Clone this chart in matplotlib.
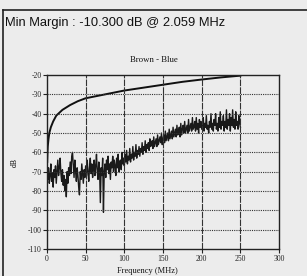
import matplotlib
matplotlib.use("Agg")
import matplotlib.pyplot as plt
from matplotlib.lines import Line2D

# ---- data ----
limit_freq = [0.3, 0.7, 1, 2, 3, 5, 8, 12, 20, 30, 40, 50, 75, 100, 125, 150, 175, 200, 225, 250]
limit_db = [-65, -60, -57, -53, -50, -47, -44, -41, -38, -35.5, -33.5, -32, -30, -28, -26.5, -25, -23.5, -22.3, -21.2, -20.3]

meas_db = [
    -70, -74, -68, -76, -72, -66, -75, -71, -78, -69,
    -73, -67, -76, -70, -64, -72, -68, -63, -71, -75,
    -69, -77, -72, -80, -74, -83, -70, -76, -68, -72,
    -65, -71, -62, -60, -67, -73, -64, -70, -75, -68,
    -72, -78, -82, -70, -74, -66, -71, -76, -69, -73,
    -67, -72, -64, -70, -75, -68, -63, -71, -66, -73,
    -69, -64, -72, -67, -61, -70, -74, -65, -69, -86,
    -68, -72, -63, -91, -70, -66, -73, -64, -69, -62,
    -71, -66, -74, -65, -68, -62, -70, -64, -67, -72,
    -63, -68, -61, -70, -65, -64, -69, -60, -66, -63,
    -67, -61, -65, -59, -66, -62, -64, -58, -65, -61,
    -63, -57, -64, -60, -62, -56, -63, -59, -61, -57,
    -62, -58, -60, -55, -61, -57, -59, -54, -60, -56,
    -58, -55, -59, -53, -57, -56, -54, -58, -52, -57,
    -55, -53, -57, -51, -56, -54, -52, -55, -50, -56,
    -53, -51, -55, -49, -54, -52, -50, -54, -48, -53,
    -51, -49, -53, -47, -52, -50, -48, -52, -46, -51,
    -50, -47, -52, -45, -51, -48, -46, -50, -44, -50,
    -48, -46, -50, -43, -49, -47, -45, -49, -42, -48,
    -47, -44, -49, -42, -48, -45, -50, -43, -47, -44,
    -48, -46, -42, -49, -45, -47, -41, -48, -46, -50,
    -44, -47, -40, -48, -45, -49, -43, -46, -40, -48,
    -45, -49, -42, -47, -39, -48, -44, -46, -41, -49,
    -44, -47, -38, -48, -43, -46, -40, -49, -42, -46,
    -38, -47, -43, -48, -39, -46, -44, -48, -41, -45,
    -47,
]
meas_freq = list(range(len(meas_db)))

x_ticks = [0, 50, 100, 150, 200, 250, 300]
y_ticks = [-20, -30, -40, -50, -60, -70, -80, -90, -100, -110]

title_text = "Min Margin : -10.300 dB @ 2.059 MHz"
pair_text = "Brown - Blue"
x_label = "Frequency (MHz)"
y_label = "dB"

# ---- figure ----
bg = "#ececec"
fig = plt.figure(figsize=(3.07, 2.76), dpi=100, facecolor=bg)
ax = fig.add_axes([0.153, 0.098, 0.756, 0.630], facecolor=bg)

ax.plot(meas_freq, meas_db, color="#1a1a1a", lw=1.0)
ax.plot(limit_freq, limit_db, color="#111111", lw=1.4)

ax.set_xlim(0, 300)
ax.set_ylim(-110, -20)
ax.set_xticks(x_ticks)
ax.set_yticks(y_ticks)
ax.set_xticklabels([str(v) for v in x_ticks], family="Liberation Serif", fontsize=5.5)
ax.set_yticklabels([str(v) for v in y_ticks], family="Liberation Serif", fontsize=5.5)
ax.tick_params(length=3, width=0.8, pad=1, colors="#222222")

for v in y_ticks[1:-1]:
    ax.axhline(v, color="#333333", lw=0.8, ls=(0, (1, 1)))
for v in x_ticks[1:-1]:
    ax.axvline(v, color="#333333", lw=0.8, ls=(0, (6, 1)))
for s in ax.spines.values():
    s.set_linewidth(1.0)
    s.set_color("#222222")

ax.set_ylabel(y_label, family="Liberation Serif", fontsize=5.5, labelpad=6)

fig.text(147 / 307, 1 - 271 / 276, x_label, family="Liberation Serif", fontsize=6,
         va="center", ha="center", color="#111111")
fig.text(5 / 307, 1 - 23 / 276, title_text, family="Liberation Sans", fontsize=9.3,
         va="center", ha="left", color="#111111")
fig.text(154 / 307, 1 - 60 / 276, pair_text, family="Liberation Serif", fontsize=6.3,
         va="center", ha="center", color="#111111")

# outer frame
fig.add_artist(Line2D([3 / 307, 1.0], [1 - 10 / 276, 1 - 10 / 276], transform=fig.transFigure,
                      color="#222222", lw=1.2))
fig.add_artist(Line2D([3 / 307, 3 / 307], [0, 1 - 10 / 276], transform=fig.transFigure,
                      color="#222222", lw=1.2))

fig.savefig("out.png", dpi=100, facecolor=bg)
